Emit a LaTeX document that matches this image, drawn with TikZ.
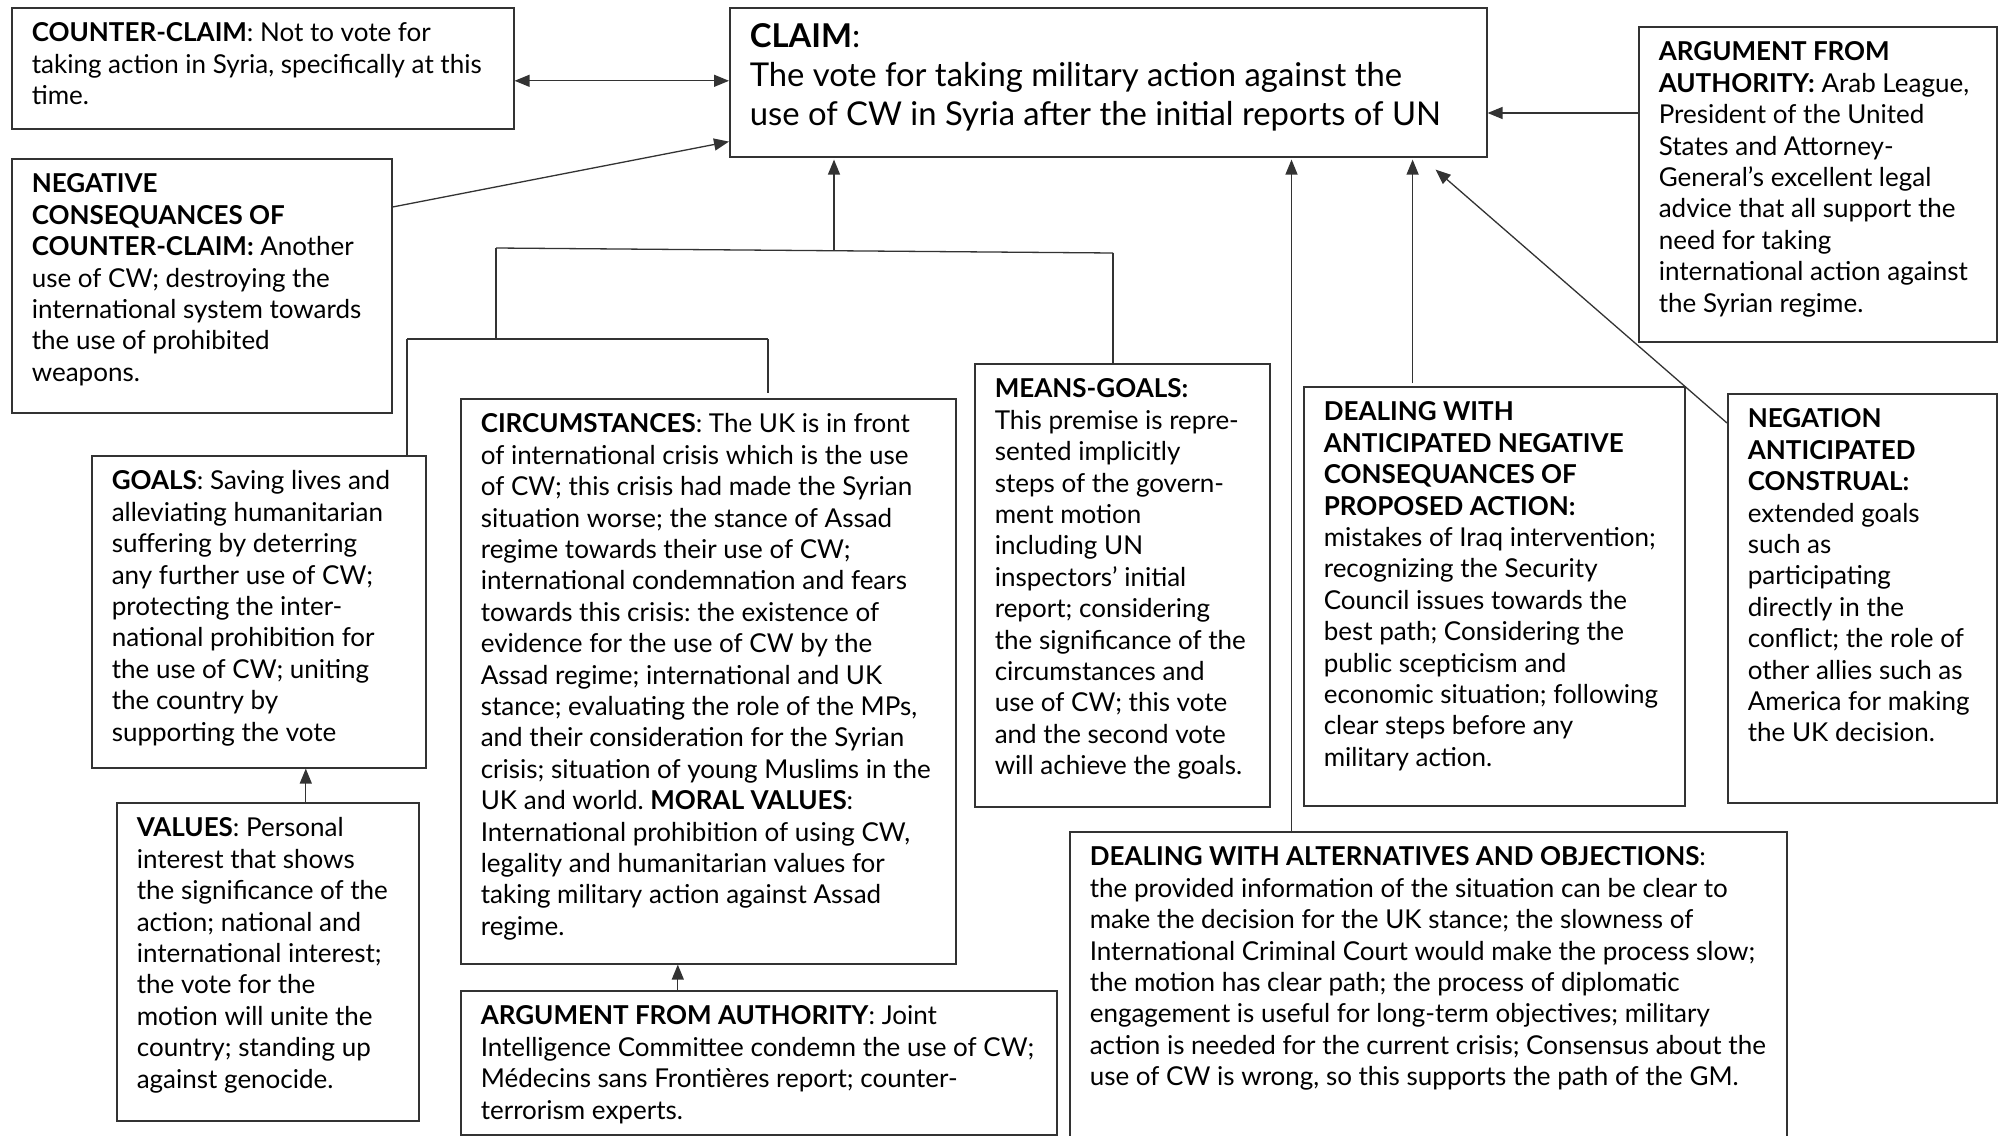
\documentclass[tikz,border=0pt]{standalone}
\usepackage{fontspec}
\setmainfont{Lato}
\usetikzlibrary{arrows.meta}
\frenchspacing
\tikzset{
  box/.style={draw=black!80, line width=1.6pt, inner xsep=20pt, inner ysep=0pt,
    anchor=north west, font=\fontsize{26}{31.4}\selectfont, text=black},
  claimfont/.style={font=\fontsize{32.8}{39}\selectfont},
  conn/.style={draw=black!80, line width=1.3pt},
  tip/.style={-{Triangle[length=15pt,width=12pt]}},
  tips/.style={{Triangle[length=15pt,width=12pt]}-{Triangle[length=15pt,width=12pt]}},
}
\newcommand\bx[6]{\node[box] (#1) at (#2,#3) {\begin{minipage}[t][#5pt][t]{\dimexpr#4pt-40pt\relax}\raggedright\frenchspacing\rule{0pt}{34pt}#6\end{minipage}};}
\begin{document}
\begin{tikzpicture}[x=1pt,y=-1pt]
\useasboundingbox (0,0) rectangle (1999,1135);
\clip (0,0) rectangle (1999,1135);
\fill[white] (0,0) rectangle (1999,1135);

\bx{cc}{11}{7}{502}{121}{\textbf{COUNTER-CLAIM}: Not to vote for\\ taking action in Syria, specifically at this\\ time.}

\node[box,claimfont] (claim) at (729,7) {\begin{minipage}[t][149pt][t]{717pt}\raggedright\rule{0pt}{40pt}\textbf{CLAIM}:\\ The vote for taking military action against the\\ use of CW in Syria after the initial reports of UN\end{minipage}};

\bx{neg}{11}{158}{380}{254}{\textbf{NEGATIVE}\\ \textbf{CONSEQUANCES OF}\\ \textbf{COUNTER-CLAIM:} Another\\ use of CW; destroying the\\ international system towards\\ the use of prohibited\\ weapons.}

\bx{auth}{1638}{26}{358}{315}{\textbf{ARGUMENT FROM}\\ \textbf{AUTHORITY:} Arab League,\\ President of the United\\ States and Attorney-\\ General’s excellent legal\\ advice that all support the\\ need for taking\\ international action against\\ the Syrian regime.}

\bx{goals}{91}{455}{334}{312}{\textbf{GOALS}: Saving lives and\\ alleviating humanitarian\\ suffering by deterring\\ any further use of CW;\\ protecting the inter-\\ national prohibition for\\ the use of CW; uniting\\ the country by\\ supporting the vote}

\bx{values}{116}{802}{302}{318}{\textbf{VALUES}: Personal\\ interest that shows\\ the significance of the\\ action; national and\\ international interest;\\ the vote for the\\ motion will unite the\\ country; standing up\\ against genocide.}

\bx{circ}{460}{398}{495}{565}{\textbf{CIRCUMSTANCES}: The UK is in front\\ of international crisis which is the use\\ of CW; this crisis had made the Syrian\\ situation worse; the stance of Assad\\ regime towards their use of CW;\\ international condemnation and fears\\ towards this crisis: the existence of\\ evidence for the use of CW by the\\ Assad regime; international and UK\\ stance; evaluating the role of the MPs,\\ and their consideration for the Syrian\\ crisis; situation of young Muslims in the\\ UK and world. \textbf{MORAL VALUES}:\\ International prohibition of using CW,\\ legality and humanitarian values for\\ taking military action against Assad\\ regime.}

\bx{authb}{460}{990}{596}{144}{\textbf{ARGUMENT FROM AUTHORITY}: Joint\\ Intelligence Committee condemn the use of CW;\\ Médecins sans Frontières report; counter-\\ terrorism experts.}

\bx{means}{974}{363}{295}{443}{\textbf{MEANS-GOALS:}\\ This premise is repre-\\ sented implicitly\\ steps of the govern-\\ ment motion\\ including UN\\ inspectors’ initial\\ report; considering\\ the significance of the\\ circumstances and\\ use of CW; this vote\\ and the second vote\\ will achieve the goals.}

\bx{antic}{1303}{386}{381}{419}{\textbf{DEALING WITH}\\ \textbf{ANTICIPATED NEGATIVE}\\ \textbf{CONSEQUANCES OF}\\ \textbf{PROPOSED ACTION:}\\ mistakes of Iraq intervention;\\ recognizing the Security\\ Council issues towards the\\ best path; Considering the\\ public scepticism and\\ economic situation; following\\ clear steps before any\\ military action.}

\bx{negation}{1727}{393}{269}{409}{\textbf{NEGATION}\\ \textbf{ANTICIPATED}\\ \textbf{CONSTRUAL:}\\ extended goals\\ such as\\ participating\\ directly in the\\ conflict; the role of\\ other allies such as\\ America for making\\ the UK decision.}

\bx{alt}{1069}{831}{717}{320}{\textbf{DEALING WITH ALTERNATIVES AND OBJECTIONS}:\\ the provided information of the situation can be clear to\\ make the decision for the UK stance; the slowness of\\ International Criminal Court would make the process slow;\\ the motion has clear path; the process of diplomatic\\ engagement is useful for long-term objectives; military\\ action is needed for the current crisis; Consensus about the\\ use of CW is wrong, so this supports the path of the GM.}

% connectors
\draw[conn,tips] ([yshift=-12.5pt]cc.east) -- ([yshift=-12.5pt]cc.east -| claim.west);
\draw[conn,tip] ([yshift=-49pt]neg.north east) -- ([yshift=16pt]claim.south west);
\draw[conn,tip] ([yshift=-87pt]auth.north west) -- ([yshift=-87pt]auth.north west -| claim.east);

\coordinate (jl) at (496,248);
\coordinate (jr) at (1113,253);
\coordinate (j1) at (834,250.7);
\coordinate (k1) at (496,339);
\coordinate (kl) at (407,339);
\coordinate (kr) at (768,339);
\draw[conn] (jl) -- (jr);
\draw[conn,tip,shorten >=2pt] (j1) -- (j1 |- claim.south);
\draw[conn] (jr) -- (jr |- means.north);
\draw[conn] (jl) -- (k1);
\draw[conn] (kl) -- (kr);
\draw[conn] (kl) -- (kl |- goals.north);
\draw[conn] (kr) -- ([yshift=5pt]kr |- circ.north);

\draw[conn,tip] ([xshift=38pt]values.north) -- ([xshift=38pt]values.north |- goals.south);
\draw[conn,tip] ([xshift=-81pt]authb.north) -- ([xshift=-81pt]authb.north |- circ.south);
\draw[conn,tip,shorten >=2pt] ([xshift=222.5pt]alt.north west) -- ([xshift=222.5pt]alt.north west |- claim.south);
\draw[conn,tip,shorten >=2pt] ([xshift=109.6pt,yshift=3pt]antic.north west) -- ([xshift=109.6pt]antic.north west |- claim.south);
\draw[conn,tip] ([yshift=-30pt]negation.north west) -- ([xshift=-52pt,yshift=-12pt]claim.south east);
\end{tikzpicture}
\end{document}
